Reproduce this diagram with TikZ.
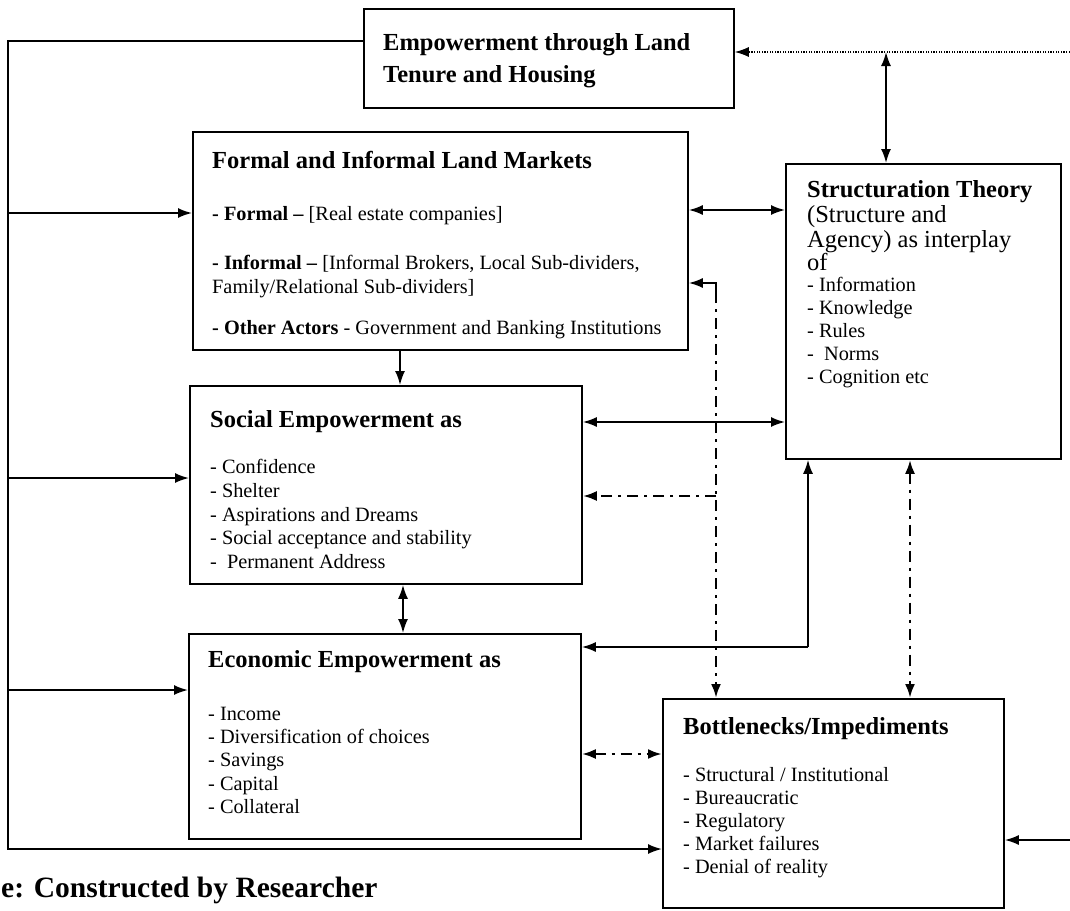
\documentclass[tikz,border=0pt]{standalone}
\usepackage{fontspec}
\setmainfont{Liberation Serif}
\usetikzlibrary{arrows.meta,calc}
\newcommand\TitleF{\fontsize{24.5}{28}\selectfont\bfseries}
\newcommand\BodyF{\fontsize{20.3}{24}\selectfont}
\newcommand\BigF{\fontsize{24.5}{28}\selectfont}
\newcommand\CapF{\fontsize{29.5}{32}\selectfont\bfseries}
\tikzset{
  box/.style={draw, line width=1.8pt, inner sep=0pt, anchor=north west},
  conn/.style={line width=1.8pt},
  dd/.style={line width=2.6pt, dash pattern=on 11pt off 6pt on 3pt off 6pt},
  dotl/.style={line width=1.2pt, dash pattern=on 1.3pt off 1.3pt},
  tip/.tip={Latex[length=14pt,width=10pt]},
  ar/.style={-tip},
  arr/.style={tip-tip},
  txt/.style={anchor=base west, inner sep=0pt},
}
\begin{document}
\begin{tikzpicture}[x=1pt,y=-1pt]
\useasboundingbox (0,0) rectangle (1070,910);
% boxes
\node[box, minimum width=370pt, minimum height=99pt] (A) at (363,8) {};
\node[box, minimum width=495pt, minimum height=218pt] (B) at (192,131) {};
\node[box, minimum width=392pt, minimum height=198pt] (C) at (189,385) {};
\node[box, minimum width=392pt, minimum height=205pt] (D) at (188,633) {};
\node[box, minimum width=341pt, minimum height=209pt] (E) at (662,698) {};
\node[box, minimum width=275pt, minimum height=295pt] (F) at (785,163) {};
% texts A
\node[txt, font=\TitleF] (a1) at (383,50) {Empowerment through Land};
\node[txt, font=\TitleF] (a2) at (383,82) {Tenure and Housing};
% texts B
\node[txt, font=\TitleF] (b1) at (212,168) {Formal and Informal Land Markets};
\node[txt, font=\BodyF] (b2) at (212,220) {\textbf{- Formal –} [Real estate companies]};
\node[txt, font=\BodyF] (b3) at (212,269) {\textbf{- Informal –} [Informal Brokers, Local Sub-dividers,};
\node[txt, font=\BodyF] (b4) at (212,293) {Family/Relational Sub-dividers]};
\node[txt, font=\BodyF] (b5) at (212,334) {\textbf{- Other Actors} - Government and Banking Institutions};
% texts C
\node[txt, font=\TitleF] (c0) at (210,427) {Social Empowerment as};
\foreach \t [count=\i] in {- Confidence, - Shelter, - Aspirations and Dreams, - Social acceptance and stability, -\ \ Permanent Address}
  \node[txt, font=\BodyF] (c\i) at (210,{450+23.7*\i}) {\t};
% texts D
\node[txt, font=\TitleF] (d0) at (208,667) {Economic Empowerment as};
\foreach \t [count=\i] in {- Income, - Diversification of choices, - Savings, - Capital, - Collateral}
  \node[txt, font=\BodyF] (d\i) at (208,{697+23.3*\i}) {\t};
% texts E
\node[txt, font=\TitleF] (e0) at (683,734) {Bottlenecks/Impediments};
\foreach \t [count=\i] in {- Structural / Institutional, - Bureaucratic, - Regulatory, - Market failures, - Denial of reality}
  \node[txt, font=\BodyF] (e\i) at (683,{758+23*\i}) {\t};
% texts F
\node[txt, font=\TitleF] (f0) at (807,197) {Structuration Theory};
\node[txt, font=\BigF] (f1) at (807,222) {(Structure and};
\node[txt, font=\BigF] (f2) at (807,247) {Agency) as interplay};
\node[txt, font=\BigF] (f3) at (807,270) {of};
\foreach \t [count=\i] in {- Information, - Knowledge, - Rules, -\ \ Norms, - Cognition etc}
  \node[txt, font=\BodyF] (f\i x) at (807,{268+23*\i}) {\t};
% caption
\node[txt, font=\CapF] (cap) at (1,897) {e: Constructed by Researcher};
% coordinates
\coordinate (lt) at (8,41);
\coordinate (lb) at (8,849);
\coordinate (lB) at (8,213);
\coordinate (lC) at (8,478);
\coordinate (lD) at (8,690);
\coordinate (bf) at (0,210);
\coordinate (cf) at (0,422);
\coordinate (bc) at (400,0);
\coordinate (cd) at (403,0);
\coordinate (af) at (886,52);
\coordinate (rt) at (1075,52);
\coordinate (h1) at (716,283);
\coordinate (h1b) at (716,292);
\coordinate (h2) at (716,496);
\coordinate (fd) at (808,647);
\coordinate (fe) at (910,0);
\coordinate (de) at (0,754);
\coordinate (re) at (1075,840);
% left feedback line
\draw[conn, ar] (A.west |- lt) -- (lt) -- (lb) -- (lb -| E.west);
\draw[conn, ar] (lB) -- (lB -| B.west);
\draw[conn, ar] (lC) -- (lC -| C.west);
\draw[conn, ar] (lD) -- (lD -| D.west);
% top
\draw[dotl, ar] (rt) -- (rt -| A.east);
\draw[conn, arr] (af) -- (af |- F.north);
% B, C, D with F
\draw[conn, arr] (bf -| B.east) -- (bf -| F.west);
\draw[conn, arr] (cf -| C.east) -- (cf -| F.west);
\draw[conn, ar] (bc |- B.south) -- (bc |- C.north);
\draw[conn, arr] (cd |- C.south) -- (cd |- D.north);
\draw[conn, ar] (fd) -- (fd -| D.east);
\draw[conn, ar] (fd) -- (fd |- F.south);
% dash-dot links
\draw[conn, ar] (h1b) -- (h1) -- (h1 -| B.east);
\draw[dd, ar] (h1b) -- (h1 |- E.north);
\draw[dd, ar] (h2) -- (h2 -| C.east);
\draw[dd, arr] (fe |- F.south) -- (fe |- E.north);
\draw[dd, arr] (de -| D.east) -- (de -| E.west);
% right input
\draw[conn, ar] (re) -- (re -| E.east);
\end{tikzpicture}
\end{document}
